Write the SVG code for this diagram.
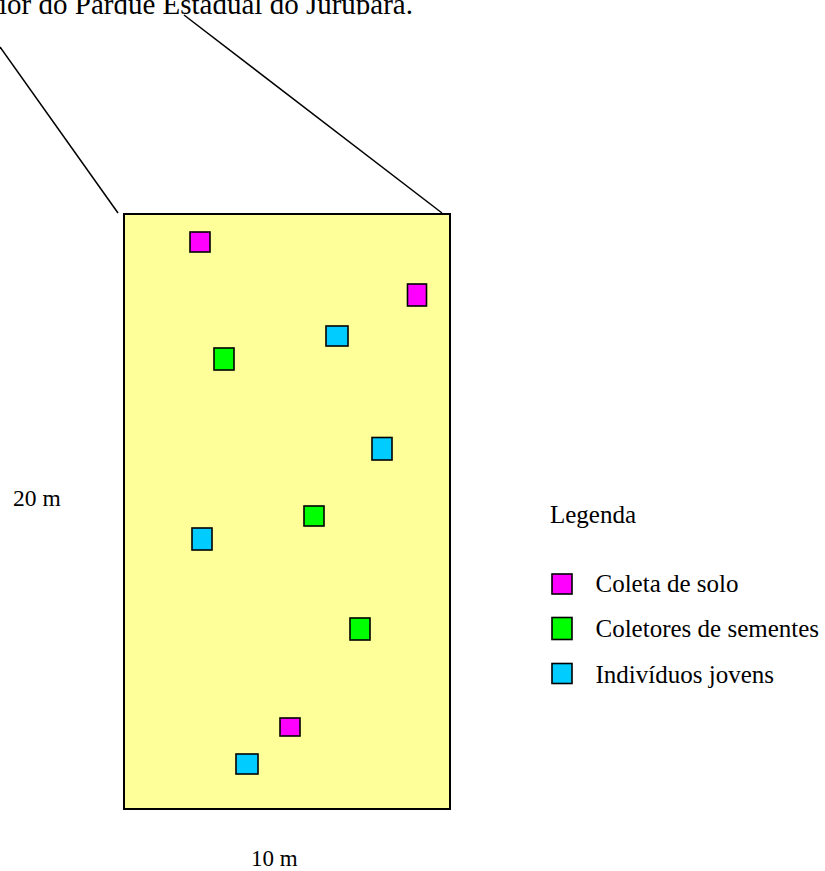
<svg xmlns="http://www.w3.org/2000/svg" width="825" height="871" viewBox="0 0 825 871">
  <style>
    .t { font-family: "Liberation Serif", "Times New Roman", serif; fill: #000; }
    .sq { stroke: #000; stroke-width: 1.6; }
    .solo { fill: #FF00FF; }
    .sem { fill: #00FF00; }
    .jov { fill: #00CCFF; }
    .ln { stroke: #000; stroke-width: 1.5; fill: none; }
  </style>
  <defs>
    <clipPath id="topclip"><rect x="0" y="0" width="825" height="14.5"/></clipPath>
  </defs>
  <rect width="825" height="871" fill="#fff"/>
  <g id="caption" clip-path="url(#topclip)">
    <text class="t" x="413" y="14" font-size="29" text-anchor="end">interior do Parque Estadual do Jurupará.</text>
  </g>
  <g id="connectors">
    <line class="ln" x1="0" y1="47" x2="118" y2="213"/>
    <line class="ln" x1="184" y1="15" x2="442" y2="213"/>
  </g>
  <g id="plot">
    <rect x="124" y="214" width="326" height="595" fill="#FFFF99" stroke="#000" stroke-width="2"/>
  </g>
  <g id="points">
    <rect class="sq solo" x="190" y="232" width="20" height="20"/>
    <rect class="sq solo" x="407.5" y="284" width="19" height="22"/>
    <rect class="sq jov" x="326" y="326" width="22" height="20"/>
    <rect class="sq sem" x="214" y="348" width="20" height="22"/>
    <rect class="sq jov" x="372" y="437.5" width="20" height="22.5"/>
    <rect class="sq sem" x="304" y="506" width="20" height="20"/>
    <rect class="sq jov" x="192" y="528" width="20" height="22"/>
    <rect class="sq sem" x="350" y="618" width="20" height="22"/>
    <rect class="sq solo" x="280" y="718" width="20" height="18"/>
    <rect class="sq jov" x="236" y="754" width="22" height="20"/>
  </g>
  <g id="dimensions">
    <text class="t" x="13" y="506" font-size="23.5">20 m</text>
    <text class="t" x="251" y="865.5" font-size="23">10 m</text>
  </g>
  <g id="legend">
    <text class="t" x="550" y="522.5" font-size="25">Legenda</text>
    <rect class="sq solo" x="552" y="574" width="20" height="20"/>
    <text class="t" x="595.5" y="592.3" font-size="25">Coleta de solo</text>
    <rect class="sq sem" x="552" y="617.5" width="20" height="22"/>
    <text class="t" x="595.5" y="637.3" font-size="25">Coletores de sementes</text>
    <rect class="sq jov" x="552" y="663.5" width="20" height="20"/>
    <text class="t" x="595.5" y="682.5" font-size="25">Indivíduos jovens</text>
  </g>
</svg>
